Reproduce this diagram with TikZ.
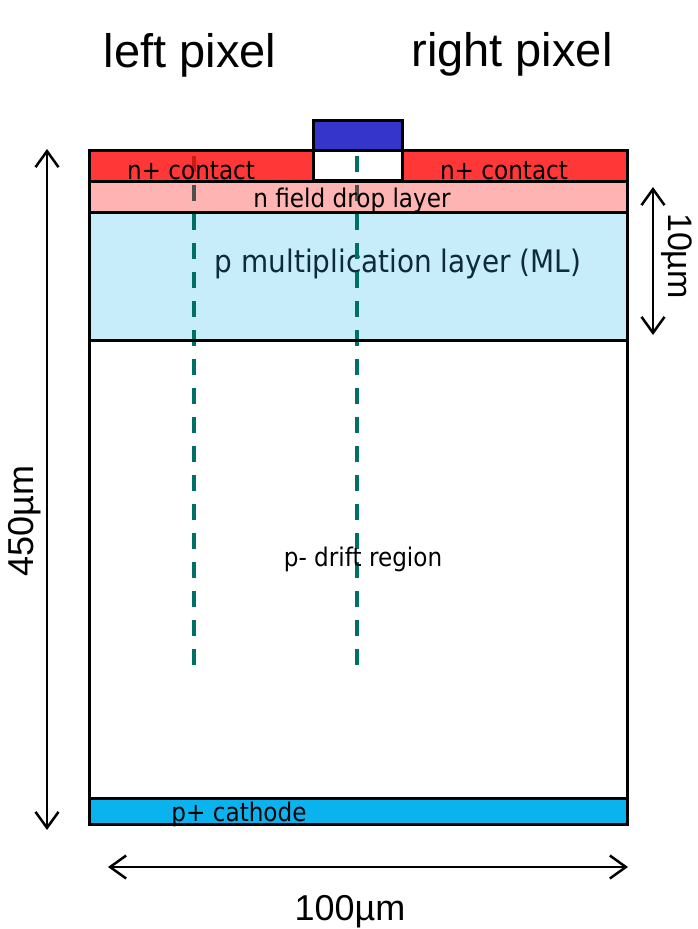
\documentclass[tikz,border=0pt]{standalone}
\usepackage{fontspec}
\setmainfont{Liberation Sans}
\newfontfamily\labelfont[FakeStretch=0.9]{DejaVu Sans}
\usetikzlibrary{arrows.meta}

\definecolor{contactred}{RGB}{255,5,5}
\definecolor{mlblue}{RGB}{199,236,250}
\definecolor{cathodeblue}{RGB}{10,178,238}
\definecolor{gateblue}{RGB}{53,53,204}
\definecolor{cuttteal}{RGB}{0,112,102}
\definecolor{mltext}{RGB}{13,43,58}

\begin{document}
\begin{tikzpicture}[x=1pt,y=-1pt,
  edge/.style={draw=black,line width=3pt},
  cutline/.style={draw=cuttteal,line width=3.6pt,dash pattern=on 16pt off 13pt},
  dimarrow/.style={line width=2.5pt,
    {Straight Barb[length=16pt,width=23pt]}-{Straight Barb[length=16pt,width=23pt]}},
  title/.style={font=\fontsize{47}{50}\selectfont,anchor=base,inner sep=0pt},
  dimtext/.style={font=\fontsize{36}{40}\selectfont,anchor=base,inner sep=0pt},
  layertext/.style={font=\labelfont\fontsize{25.7}{28}\selectfont,anchor=base,inner sep=0pt}]
\useasboundingbox (0,0) rectangle (698,929);

% base fills of the multiplication layer and the cathode
\fill[mlblue] (89,212) rectangle (627,340);
\fill[cathodeblue] (89,798) rectangle (627,824);

\node[layertext,font=\labelfont\fontsize{31}{34}\selectfont,text=mltext] (ml) at (398,272) {p multiplication layer (ML)};

% cut lines through the two pixels
\coordinate (cutLtop) at (194,156);
\coordinate (cutLbot) at (194,665);
\coordinate (cutRtop) at (357,156);
\coordinate (cutRbot) at (357,665);
\draw[cutline] (cutLtop) -- (cutLbot);
\draw[cutline] (cutRtop) -- (cutRbot);

% translucent n-type layers on top
\fill[contactred,fill opacity=0.8] (89,150) rectangle (313,181);
\fill[contactred,fill opacity=0.8] (402,150) rectangle (627,181);
\fill[contactred,fill opacity=0.3] (89,181) rectangle (627,212);
\fill[gateblue] (313,120) rectangle (402,150);

% outlines
\draw[edge] (313,120) rectangle (402,150);
\draw[edge] (313,150) rectangle (402,180);
\draw[edge] (89,150) rectangle (313,181);
\draw[edge] (402,150) rectangle (627,181);
\draw[edge] (89,181) rectangle (627,212);
\draw[edge] (89,212) rectangle (627,340);
\draw[edge] (89,340) rectangle (627,798);
\draw[edge] (89,798) rectangle (627,824);

% layer labels
\node[layertext] (ncl) at (191,179) {n+ contact};
\node[layertext] (ncr) at (504,179) {n+ contact};
\node[layertext] (fdl) at (352,207) {n field drop layer};
\node[layertext] (drift) at (363,566) {p- drift region};
\node[layertext] (cath) at (239,821) {p+ cathode};

% pixel titles
\node[title] (lp) at (190,67) {left pixel};
\node[title] (rp) at (512,66) {right pixel};

% dimensions
\coordinate (thickTop) at (47,149);
\coordinate (thickBot) at (47,830);
\draw[dimarrow] (thickTop) -- (thickBot);
\node[dimtext,rotate=90] (thick) at (33,521) {450µm};

\coordinate (mlTop) at (653,187);
\coordinate (mlBot) at (653,335);
\draw[dimarrow] (mlTop) -- (mlBot);
\node[dimtext,font=\fontsize{34}{38}\selectfont,rotate=-90] (mlw) at (668,256) {10µm};

\coordinate (wL) at (108,867);
\coordinate (wR) at (628,867);
\draw[dimarrow] (wL) -- (wR);
\node[dimtext] (width) at (350,920) {100µm};
\end{tikzpicture}
\end{document}
